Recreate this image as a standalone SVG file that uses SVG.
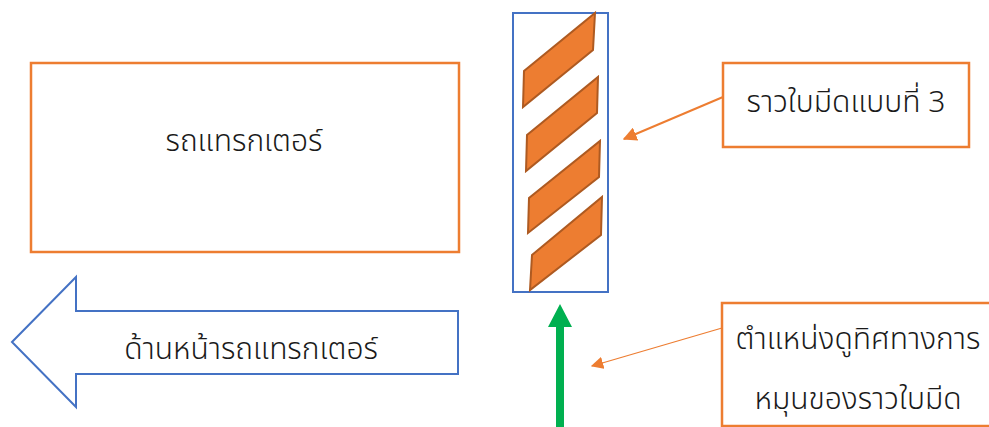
<svg xmlns="http://www.w3.org/2000/svg" width="989" height="427" viewBox="0 0 989 427">
  <style>
    .box { fill: #ffffff; stroke: #ED7D31; stroke-width: 2.5; }
    .blue { fill: #ffffff; stroke: #4472C4; stroke-width: 2; }
    .blade { fill: #ED7D31; stroke: #AE5A21; stroke-width: 2; stroke-linejoin: miter; }
    .lbl { font-family: "Noto Sans", "Noto Sans Thai", "Noto Sans CJK SC", sans-serif; font-size: 30px; font-weight: 300; fill: #1a1a1a; text-anchor: middle; }
    .lead { stroke: #ED7D31; fill: none; }
  </style>
  <defs>
    <marker id="tri" viewBox="0 0 10 10" refX="9" refY="5" markerWidth="7" markerHeight="7" orient="auto" markerUnits="strokeWidth">
      <path d="M0,0 L10,5 L0,10 Z" fill="#ED7D31"/>
    </marker>
    <marker id="tri2" viewBox="0 0 10 10" refX="9" refY="5" markerWidth="10" markerHeight="10" orient="auto" markerUnits="strokeWidth">
      <path d="M0,0 L10,5 L0,10 Z" fill="#ED7D31"/>
    </marker>
  </defs>

  <g id="tractor">
    <rect class="box" x="31" y="63" width="428" height="189"/>
    <text class="lbl" x="244" y="151">รถแทรกเตอร์</text>
  </g>

  <g id="front-direction">
    <path class="blue" d="M12,342 L76,277 L76,311 L458,311 L458,374 L76,374 L76,407 Z"/>
    <text class="lbl" x="251" y="359">ด้านหน้ารถแทรกเตอร์</text>
  </g>

  <g id="blade-rail">
    <rect class="blue" x="513" y="13" width="95" height="279" fill="none"/>
    <polygon class="blade" points="595,13 593,50 523,107 524,71"/>
    <polygon class="blade" points="598,77 597,113 526,171 527,135"/>
    <polygon class="blade" points="600,141 599,177 528,233 529,198"/>
    <polygon class="blade" points="602,197 601,235 530,290 532,255"/>
  </g>

  <g id="label-blade-type">
    <rect class="box" x="723" y="63" width="246" height="84"/>
    <text class="lbl" x="846" y="112">ราวใบมีดแบบที่ 3</text>
  </g>

  <g id="label-view-point">
    <rect class="box" x="722" y="303" width="280" height="123"/>
    <text class="lbl" x="858" y="349">ตำแหน่งดูทิศทางการ</text>
    <text class="lbl" x="858" y="409">หมุนของราวใบมีด</text>
  </g>

  <g id="connectors">
    <line class="lead" x1="723" y1="97" x2="624" y2="139" stroke-width="2" marker-end="url(#tri)"/>
    <line class="lead" x1="722" y1="328" x2="592" y2="366" stroke-width="1.25" marker-end="url(#tri2)"/>
    <path d="M556,427 L556,327 L548,327 L560,304 L572,327 L564,327 L564,427 Z" fill="#00B050"/>
  </g>
</svg>
